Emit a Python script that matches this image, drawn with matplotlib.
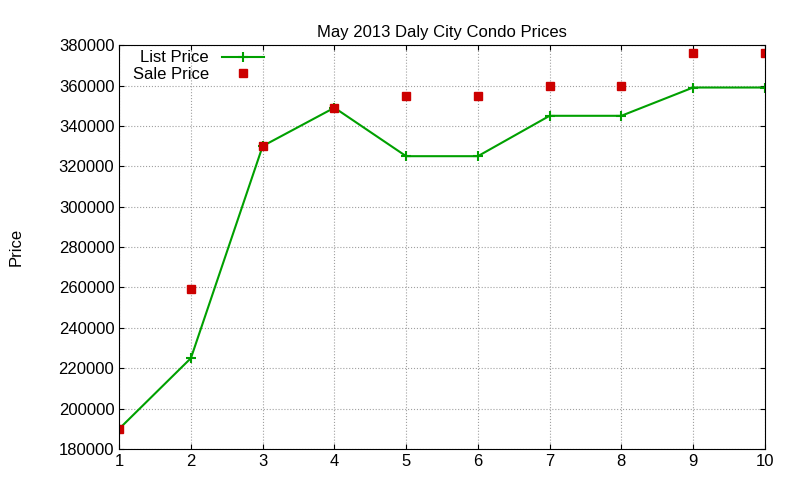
import matplotlib
matplotlib.use("Agg")
import matplotlib.pyplot as plt

x = [1, 2, 3, 4, 5, 6, 7, 8, 9, 10]
list_price = [190000, 225000, 330000, 349000, 325000, 325000, 345000, 345000, 359000, 359000]
sale_price = [190000, 259000, 330000, 349000, 355000, 355000, 360000, 360000, 376000, 376000]

plt.rcParams['font.family'] = ['Liberation Sans', 'DejaVu Sans']
fig = plt.figure(figsize=(8, 4.8), dpi=100)
ax = fig.add_axes([0.149, 0.0646, 0.807, 0.8414])
ax.plot(x, list_price, color='#00a000', lw=1.5, marker='+', ms=7, mew=1.5, label='List Price')
ax.plot(x, sale_price, ls='none', color='#cc0000', marker='s', ms=6, label='Sale Price')
ax.set_xlim(1, 10)
ax.set_ylim(180000, 380000)
ax.set_xticks(range(1, 11))
ax.set_yticks(range(180000, 380001, 20000))
ax.tick_params(labelsize=12, direction='in', top=True, right=True)
ax.grid(True, color='#a0a0a0', ls=':', lw=0.8)
ax.set_title('May 2013 Daly City Condo Prices', fontsize=12)
ax.set_ylabel('Price', fontsize=12, labelpad=25)
ax.legend(loc='upper left', bbox_to_anchor=(0.0, 1.02), frameon=False, markerfirst=False,
          fontsize=12, handlelength=2.5, borderpad=0.3, labelspacing=0.1)
fig.savefig('out.png')
